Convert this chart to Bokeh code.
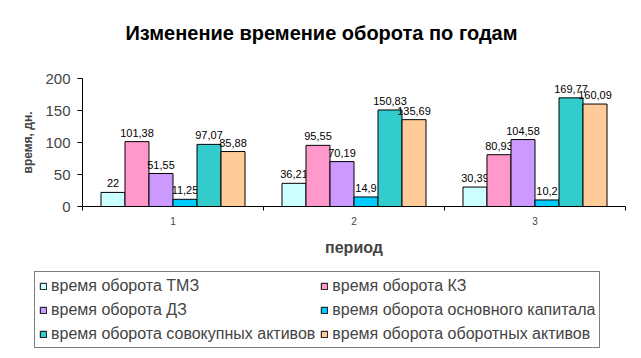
from bokeh.plotting import figure
from bokeh.layouts import column
from bokeh.models import Range1d, FixedTicker, Legend, LegendItem, ColumnDataSource
from bokeh.core.properties import value
from bokeh.embed import file_html
from bokeh.resources import INLINE

# ---- data ----
title_text = "Изменение времение оборота по годам"
periods = [1, 2, 3]
period_labels = ["1", "2", "3"]
series_names = [
    "время оборота ТМЗ",
    "время оборота КЗ",
    "время оборота ДЗ",
    "время оборота основного капитала",
    "время оборота совокупных активов",
    "время оборота оборотных активов",
]
tmz = [22, 36.21, 30.39]
kz = [101.38, 95.55, 80.93]
dz = [51.55, 70.19, 104.58]
osn_kap = [11.25, 14.9, 10.2]
sov_akt = [97.07, 150.83, 169.77]
obor_akt = [85.88, 135.69, 160.09]
y_ticks = [0, 50, 100, 150, 200]

series_values = [tmz, kz, dz, osn_kap, sov_akt, obor_akt]
colors = ["#CCFFFF", "#FF99CC", "#CC99FF", "#00CCFF", "#33CCCC", "#FFCC99"]

FONT = "Liberation Sans"
W = 641
H_TOP, H_MAIN, H_LEG = 56, 209, 93


def bare(height, xr, yr):
    f = figure(width=W, height=height, x_range=xr, y_range=yr,
               output_backend="svg", toolbar_location=None,
               min_border_left=0, min_border_right=0,
               min_border_top=0, min_border_bottom=0)
    f.axis.visible = False
    f.grid.visible = False
    f.outline_line_color = None
    f.border_fill_color = "white"
    f.frame_align = False
    return f


# ---- title strip ----
pt = bare(H_TOP, Range1d(0, W), Range1d(H_TOP, 0))
pt.text(x=[321], y=[32], text=[title_text], text_align="center",
        text_baseline="middle", text_font=value(FONT), text_font_style="bold",
        text_font_size="20px", text_color="black")

# ---- main chart ----
p = figure(width=W, height=H_MAIN,
           x_range=Range1d(0.5, 3.5), y_range=Range1d(0, 200),
           output_backend="svg", toolbar_location=None,
           min_border_left=82, min_border_right=16,
           min_border_top=22, min_border_bottom=59)
p.frame_align = False
p.outline_line_color = None
p.grid.visible = False
p.background_fill_color = "white"
p.border_fill_color = "white"

bar_w = 0.1326
renderers = []
for j, (name, vals, col) in enumerate(zip(series_names, series_values, colors)):
    xs = [g + (j - 2.5) * bar_w for g in periods]
    labels = [f"{v:g}".replace(".", ",") for v in vals]
    src = ColumnDataSource(dict(x=xs, top=vals, lab=labels))
    r = p.vbar(x="x", top="top", width=bar_w, bottom=0, source=src,
               fill_color=col, line_color="black", line_width=1)
    renderers.append(r)
    p.text(x="x", y="top", text="lab", source=src,
           text_align="center", text_baseline="alphabetic",
           y_offset=-9, text_font=value(FONT), text_font_size="11px",
           text_color="black")

# x axis
xa = p.xaxis[0]
xa.ticker = FixedTicker(ticks=periods, minor_ticks=[0.5, 1.5, 2.5, 3.5])
xa.major_label_overrides = {g: l for g, l in zip(periods, period_labels)}
xa.major_tick_out = 0
xa.major_tick_in = 0
xa.minor_tick_out = 4
xa.minor_tick_in = 0
xa.major_label_standoff = 6
xa.major_label_text_font = FONT
xa.major_label_text_font_size = "10px"
xa.axis_line_color = "black"
xa.axis_label = "период"
xa.axis_label_text_font = FONT
xa.axis_label_text_font_style = "bold"
xa.axis_label_text_font_size = "16px"
xa.axis_label_standoff = 11

# y axis
ya = p.yaxis[0]
ya.ticker = FixedTicker(ticks=y_ticks, minor_ticks=[])
ya.major_tick_out = 5
ya.major_tick_in = 0
ya.minor_tick_out = 0
ya.major_label_standoff = 7
ya.major_label_text_font = FONT
ya.major_label_text_font_size = "15px"
ya.axis_line_color = "black"
ya.axis_label = "время, дн."
ya.axis_label_text_font = FONT
ya.axis_label_text_font_style = "bold"
ya.axis_label_text_font_size = "12px"
ya.axis_label_standoff = 7

# ---- legend strip ----
pl = bare(H_LEG, Range1d(0, 1), Range1d(0, 1))
proxies = []
for name, col in zip(series_names, colors):
    r = pl.vbar(x=[-5], top=[0], bottom=0, width=0.1,
                fill_color=col, line_color="black", line_width=1)
    proxies.append(r)

order = [0, 2, 4, 1, 3, 5]   # column-major for two columns
items = [LegendItem(label=series_names[i], renderers=[proxies[i]]) for i in order]
legend = Legend(items=items, location=(34, 10), orientation="vertical", ncols=2,
                label_text_font=FONT, label_text_font_size="16px",
                glyph_width=8, glyph_height=8, label_standoff=4,
                label_height=19, spacing=5, padding=4, margin=0,
                border_line_color="black", border_line_width=1,
                background_fill_color="white", background_fill_alpha=1)
pl.add_layout(legend, "center")

layout = column(pt, p, pl, spacing=0)
open("out.html", "w").write(file_html(layout, INLINE))
